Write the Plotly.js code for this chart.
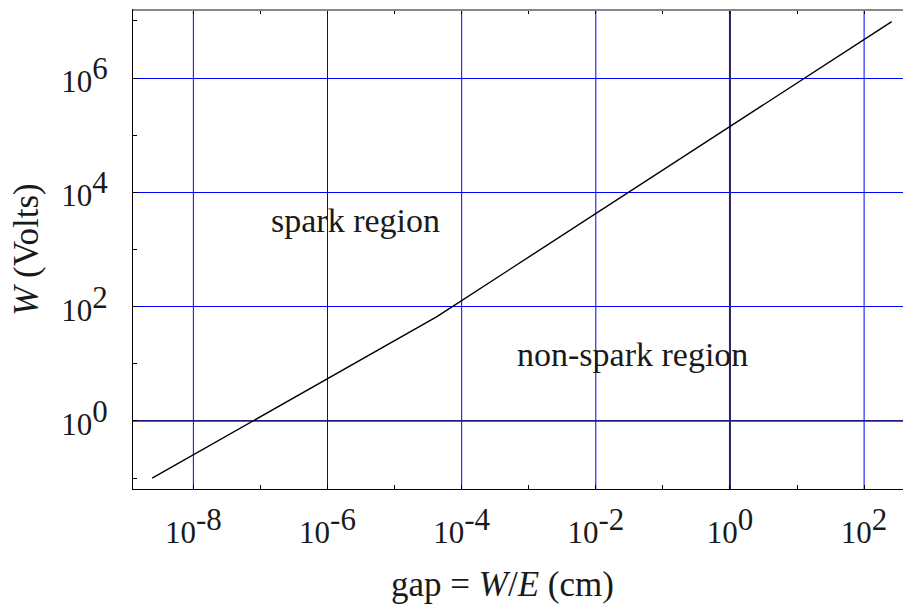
<!DOCTYPE html>
<html>
<head>
<meta charset="utf-8">
<script src="https://cdn.plot.ly/plotly-3.0.1.min.js"></script>
<style>html,body{margin:0;padding:0;background:#fff;}#chart{width:903px;height:607px;}</style>
</head>
<body>
<div id="chart"></div>
<script>
// Data (breakdown voltage vs gap)
const gapCm = [2.43e-9, 4.28e-5, 258];
const wVolts = [0.1, 67, 9.7e6];

// Major (labelled) ticks
const xTickVals = [1e-8, 1e-6, 1e-4, 1e-2, 1e0, 1e2];
const xTickExp = ['-8', '-6', '-4', '-2', '0', '2'];
const yTickVals = [1e0, 1e2, 1e4, 1e6];
const yTickExp = ['0', '2', '4', '6'];

// Reference lines at 10^0 (and vertical grid span)
const unitX = [1, 1];
const fullYSpan = [1e-3, 1e9];
const unitY = [1, 1];
const fullXSpan = [1e-12, 1e4];

// Region labels
const regionLabels = ['spark region', 'non-spark region'];
const regionLogX = [-5.58, -1.45];
const regionLogY = [3.50, 1.17];

const FONT = 'Liberation Serif, Times New Roman, serif';
const TICKSIZE = 31;

function supLabel(e) {
  return '10<sup><span style="font-size:' + TICKSIZE + 'px">' + e + '</span></sup>';
}

// minor ticks at every half decade, skipping the labelled (even) decades
function halfDecades(lo, hi) {
  const v = [];
  for (let k = lo; k <= hi; k++) {
    if (k % 4 === 0) continue;
    v.push(Number('1e' + (k / 2)));
  }
  return v;
}

// vertical grid lines at the labelled x ticks
const gridX = [], gridY = [];
xTickVals.forEach(v => { gridX.push(v, v, null); gridY.push(fullYSpan[0], fullYSpan[1], null); });

const traces = [
  {x: gridX, y: gridY, mode: 'lines', line: {color: '#0000ff', width: 1}, hoverinfo: 'skip', showlegend: false, connectgaps: false},
  {x: unitX, y: fullYSpan, mode: 'lines', line: {color: '#262660', width: 2}, hoverinfo: 'skip', showlegend: false},
  {x: fullXSpan, y: unitY, mode: 'lines', line: {color: '#262660', width: 1.3}, hoverinfo: 'skip', showlegend: false},
  {x: gapCm, y: wVolts, mode: 'lines', line: {color: '#000', width: 1.4}, showlegend: false}
];

const layout = {
  width: 903, height: 607,
  margin: {l: 133, r: 0, t: 10, b: 118},
  paper_bgcolor: '#fff', plot_bgcolor: '#fff',
  font: {family: FONT, color: '#1a1a1a', size: 34},
  showlegend: false,
  xaxis: {
    type: 'log', range: [-8.90, 2.58],
    tickmode: 'array', tickvals: xTickVals, ticktext: xTickExp.map(supLabel),
    ticks: 'inside', ticklen: 4, tickcolor: '#000', tickwidth: 1,
    tickfont: {family: FONT, size: TICKSIZE, color: '#1a1a1a'},
    ticklabelstandoff: 16,
    showgrid: false,
    showline: true, linecolor: '#000', linewidth: 1, mirror: 'ticks',
    zeroline: false,
    minor: {tickmode: 'array', tickvals: halfDecades(-18, 5), ticks: 'inside', ticklen: 4, tickcolor: '#000', showgrid: false},
    title: {text: ''}
  },
  yaxis: {
    type: 'log', range: [-1.19, 7.19],
    tickmode: 'array', tickvals: yTickVals, ticktext: yTickExp.map(supLabel),
    ticks: 'inside', ticklen: 4, tickcolor: '#000', tickwidth: 1,
    tickfont: {family: FONT, size: TICKSIZE, color: '#1a1a1a'},
    ticklabelstandoff: 18,
    ticklabelshift: 3,
    showgrid: true, gridcolor: '#0000ff', gridwidth: 1,
    showline: true, linecolor: '#000', linewidth: 1, mirror: false,
    zeroline: false,
    minor: {tickmode: 'array', tickvals: halfDecades(-4, 15), ticks: 'inside', ticklen: 4, tickcolor: '#000', showgrid: false},
    title: {text: '<i>W</i> (Volts)', font: {family: FONT, size: 35, color: '#1a1a1a'}, standoff: 12}
  },
  shapes: [
    {type: 'line', xref: 'paper', yref: 'paper', x0: 0, x1: 1, y0: 1, y1: 1, line: {color: '#888', width: 2}}
  ],
  annotations: regionLabels.map((t, i) => ({
    text: t, xref: 'x', yref: 'y', x: regionLogX[i], y: regionLogY[i],
    showarrow: false, xanchor: 'center', yanchor: 'middle',
    font: {family: FONT, size: 34, color: '#1a1a1a'}
  })).concat([{
    text: 'gap = <i>W</i>/<i>E</i> (cm)', xref: 'paper', yref: 'paper',
    x: 0.4805, y: -0.155, xanchor: 'center', yanchor: 'top', showarrow: false,
    font: {family: FONT, size: 35, color: '#1a1a1a'}
  }])
};

Plotly.newPlot('chart', traces, layout, {displayModeBar: false, staticPlot: true});
</script>
</body>
</html>
